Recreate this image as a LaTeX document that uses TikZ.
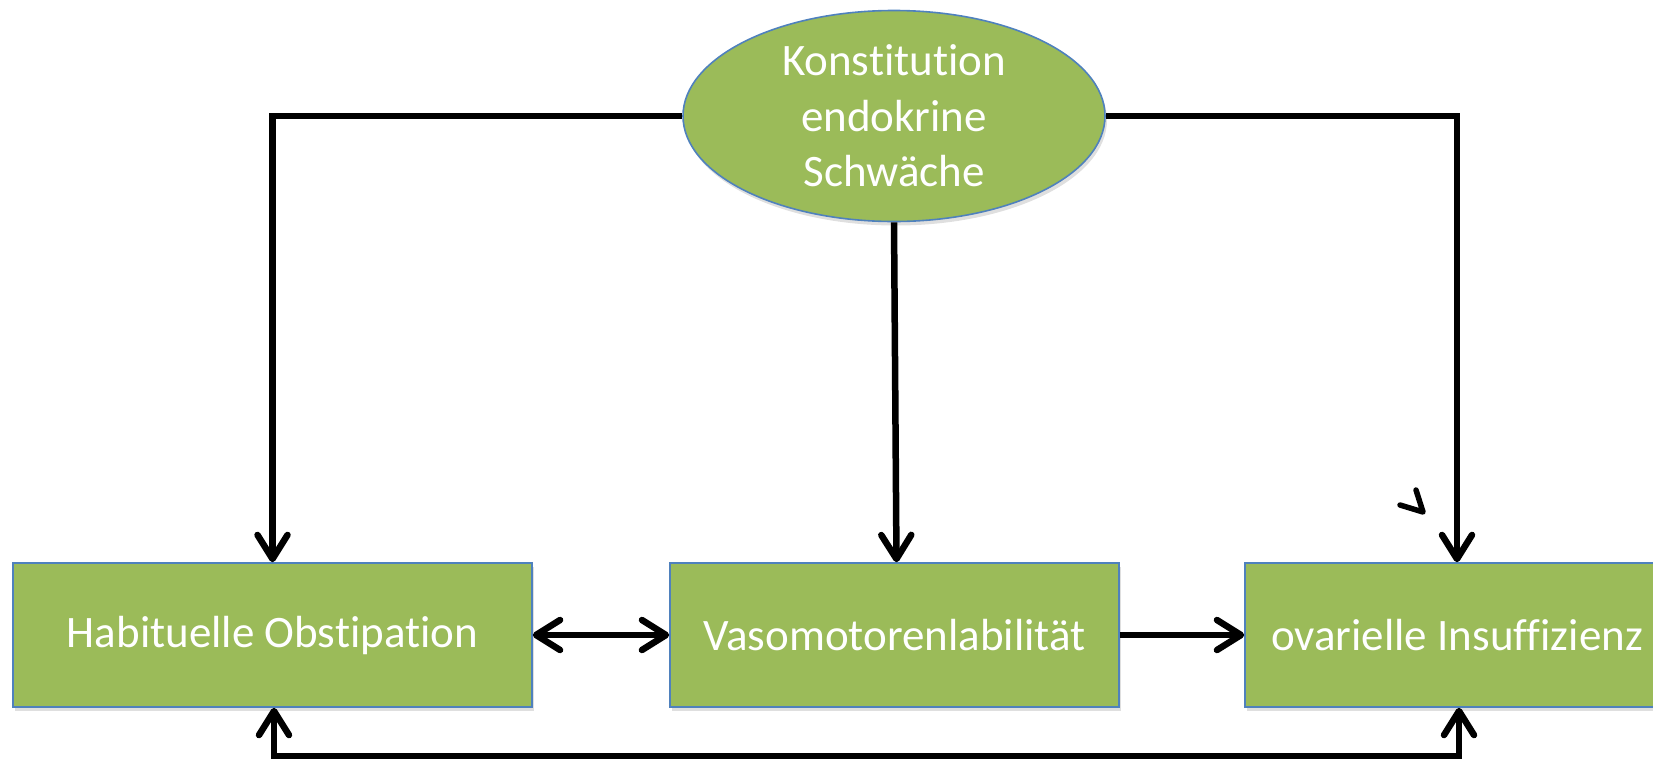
\documentclass[tikz,border=0pt]{standalone}
\usepackage{fontspec}
\setmainfont[Ligatures=NoCommon]{Carlito}
\usetikzlibrary{arrows.meta,shapes.geometric,shadows}

\definecolor{boxgreen}{HTML}{9BBB59}
\definecolor{boxblue}{HTML}{4F81BD}

\tikzset{
  box/.style={rectangle, fill=boxgreen, draw=boxblue, line width=1.6pt,
    minimum height=144pt, inner sep=0pt, text=white,
    font=\fontsize{45}{55}\selectfont,
    drop shadow={shadow xshift=2pt, shadow yshift=-4pt, opacity=0.25}},
  cloud/.style={ellipse, fill=boxgreen, draw=boxblue, line width=1.6pt,
    minimum width=422pt, minimum height=211pt, inner sep=0pt, text=white,
    align=center, font=\fontsize{45}{55.5}\selectfont,
    drop shadow={shadow xshift=2pt, shadow yshift=-4pt, opacity=0.25}},
  barb/.tip={Straight Barb[length=24pt,width=30pt,line cap=round,line join=round]},
  link/.style={line width=6.5pt, line join=miter, -barb},
  biline/.style={line width=6.5pt, line join=miter, barb-barb},
}

\begin{document}
\begin{tikzpicture}[x=1pt,y=-1pt]
  \useasboundingbox (0,0) rectangle (1653,758);
  \clip (0,0) rectangle (1653,758);

  % cause at the top
  \node[cloud] (konst) at (894,116) {Konstitution\\endokrine\\Schwäche};

  % the three effects
  \node[box, minimum width=519pt] (obst) at (272.5,635) {Habituelle Obstipation};
  \node[box, minimum width=449pt] (vaso) at (894.5,635) {Vasomotorenlabilität};
  \node[box, minimum width=424pt] (ovar) at (1457,635) {ovarielle Insuffizienz};

  % connectors from the cause
  \draw[link] (konst.west) -| (obst.north);
  \draw[link] (konst.east) -| (ovar.north);
  \draw[link] (konst.south) -- ([xshift=2pt]vaso.north);

  % links between the effects
  \draw[biline] (obst.east) -- (vaso.west);
  \draw[link] (vaso.east) -- (ovar.west);

  \coordinate (bottom) at (870,756);
  \draw[biline] ([xshift=1.5pt]obst.south) |- (bottom) -| ([xshift=2pt]ovar.south);

  % lone arrow head
  \coordinate (lone) at (1423,512);
  \draw[line width=5.5pt, line cap=round, line join=round]
    (1400,505) -- (lone) -- (1416,490);
\end{tikzpicture}
\end{document}
